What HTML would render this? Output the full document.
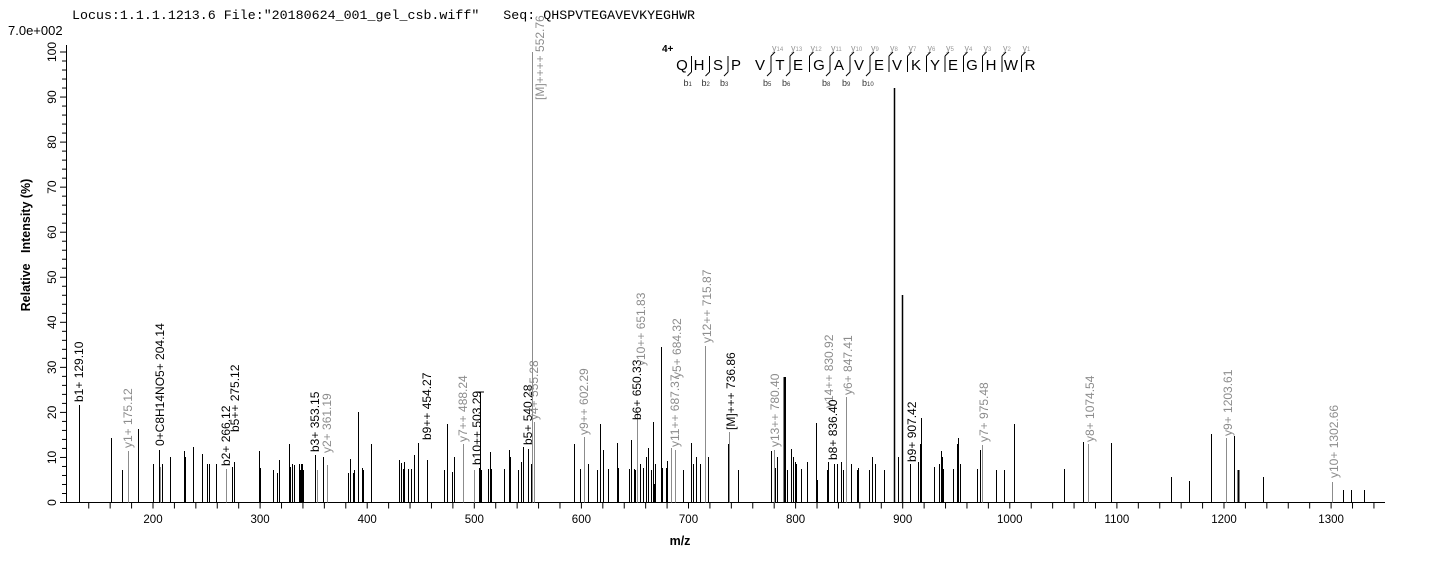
<!DOCTYPE html>
<html><head><meta charset="utf-8"><style>
html,body{margin:0;padding:0;background:#fff;}
svg{display:block;}
text{font-family:"Liberation Sans",Arial,sans-serif;}
</style></head><body>
<svg id="s" width="1436" height="562" xmlns="http://www.w3.org/2000/svg">
<text x="72" y="19" font-size="13.3" fill="#000" style="font-family:'Liberation Mono',monospace" textLength="623">Locus:1.1.1.1213.6 File:"20180624_001_gel_csb.wiff"&#160;&#160;&#160;Seq: QHSPVTEGAVEVKYEGHWR</text>
<text x="8" y="35" font-size="13" fill="#000">7.0e+002</text>
<text transform="translate(30,245) rotate(-90)" font-size="12.5" font-weight="bold" text-anchor="middle">Relative&#160;&#160;&#160;Intensity (%)</text>
<text x="680" y="545" font-size="12.5" font-weight="bold" text-anchor="middle">m/z</text>
<g id="g"></g>
</svg>
<script>
var g=document.getElementById('g'),h='';
var B=502.5;
function ln(x1,y1,x2,y2,c,w){h+='<line x1="'+x1+'" y1="'+y1+'" x2="'+x2+'" y2="'+y2+'" stroke="'+c+'" stroke-width="'+(w||1)+'"/>';}
ln(66,B,1385,B,'#000');ln(66.5,45,66.5,B,'#000');
for(var v=0;v<=100;v+=2){var y=B-4.505*v;ln(v%10==0?60:62,y,66,y,'#000');}
for(var v=0;v<=100;v+=10){var y=B-4.505*v;h+='<text transform="translate(56,'+y+') rotate(-90)" font-size="12" text-anchor="middle">'+v+'</text>';}
function X(m){return 153+(m-200)*1.071;}
for(var m=140;m<=1360;m+=20){var x=X(m);if(x<66||x>1385)continue;ln(x,B,x,B+6,'#000');}
for(var m=200;m<=1300;m+=100){h+='<text x="'+X(m)+'" y="523" font-size="11.5" text-anchor="middle">'+m+'</text>';}
var K='#000',G='#8c8c8c';
var P=[[79,405],[111,438],[122,470],[128,451,G],[138,429],[153,464],[159,450],[160,467,G],[162,464],[170,457],[184,451],[185,457],[193,447],[202,454],[207,464],[209,464],[216,464],[226,469,G],[232,467],[234,462],[259,451],[260,468],[273,470],[277,473],[279,460],[289,444],[290,467],[292,464],[294,465],[299,464],[300,470],[301,464],[302,464],[303,470],[315,455],[317,470,G],[323,457],[327,465,G],[348,473],[350,459],[353,473],[354,470],[358,412],[362,468],[363,470],[371,444],[399,460],[401,463],[403,469],[404,462],[408,469],[411,469],[414,455],[418,443],[427,460],[444,470],[447,424],[452,472],[454,457],[463,444,G],[474,470,G],[479,468],[480,392],[481,470],[488,469],[490,452],[491,469],[504,469],[509,450],[510,457],[518,470],[521,462],[523,447],[528,449],[531,464],[532,52,G],[534,422,G],
[574,444],[580,469],[584,437,G],[588,464],[597,470],[600,424],[603,450],[608,469],[617,443],[618,468],[629,469],[631,440],[634,469],[635,470],[637,412,G],[640,464],[643,468],[646,457],[648,448],[651,470],[653,422],[654,484],[655,464],[661,347],[662,468],[666,468],[667,461],[671,448,G],[675,450,G],[683,470],[691,443],[693,464],[696,457],[700,464],[705,346,G],[708,457],[728,444],[729,432,G],[738,470],[771,451],[774,450,G],[775,468],[777,457],[784,377,K,2],[785,377],[787,470],[791,449],[793,457],[795,462],[796,464],[801,469],[807,462],[816,423],[817,480],[827,470],[828,462],[834,464],[837,464],[841,462],[843,470],[846,397,G],[851,464],[857,470],[858,468],[869,470],[872,457],[875,464],[884,470],[894,88,K,1.5],[898,457],[902,295,K,1.5],[910,464],[918,462],[920,444],[921,418],[934,467],[939,464],[941,451],[942,457],[943,469],[953,469],[957,444],[958,438],[960,464],
[977,469],[980,450],[982,445,G],[996,470],[1004,470],[1014,424],[1064,469],[1083,442],[1088,444,G],[1111,443],[1171,477],[1189,481],[1211,434],[1226,438,G],[1234,436],[1238,470,K,2],[1263,477],[1332,482,G],[1343,490],[1351,490],[1364,490]];
P.forEach(function(p){ln(p[0]+.5,B,p[0]+.5,p[1],p[2]||K,p[3]||1);});
ln(476,392,484,392,'#000');
var L=[[79,402,'b1+ 129.10',K],[128,448,'y1+ 175.12',G],[160,446,'0+C8H14NO5+ 204.14',K],[226,466,'b2+ 266.12',K],[235,432,'b5++ 275.12',K],[315,452,'b3+ 353.15',K],[327,453,'y2+ 361.19',G],[427,440,'b9++ 454.27',K],[463,442,'y7++ 488.24',G],[477,465,'b10++ 503.29',K],[528,445,'b5+ 540.28',K],[534,420,'y4+ 555.28',G],[540,100,'[M]++++ 552.76',G],[584,435,'y9++ 602.29',G],[637,420,'b6+ 650.33',K],[641,366,'y10++ 651.83',G],[675,447,'y11++ 687.37',G],[677,378,'y5+ 684.32',G],[707,343,'y12++ 715.87',G],[731,430,'[M]+++ 736.86',K],[775,447,'y13++ 780.40',G],[829,408,'y14++ 830.92',G],[833,460,'b8+ 836.40',K],[848,395,'y6+ 847.41',G],[912,462,'b9+ 907.42',K],[984,442,'y7+ 975.48',G],[1090,442,'y8+ 1074.54',G],[1228,436,'y9+ 1203.61',G],[1334,478,'y10+ 1302.66',G]];
L.forEach(function(l){h+='<text transform="translate('+(l[0]+4)+','+l[1]+') rotate(-90)" font-size="12" fill="'+l[3]+'">'+l[2]+'</text>';});
var S='QHSPVTEGAVEVKYEGHWR'.split(''),SX=[682,699,718,736,760,780,798,819,839,859,879,897,916,935,953,972,991,1011,1030];
h+='<text x="662" y="52" font-size="10" font-weight="bold">4+</text>';
S.forEach(function(c,i){h+='<text x="'+SX[i]+'" y="70" font-size="15" text-anchor="middle">'+c+'</text>';});
var yI=[5,6,7,8,9,10,11,12,13,14,15,16,17,18],yN=[14,13,12,11,10,9,8,7,6,5,4,3,2,1];
yI.forEach(function(i,k){var x=(SX[i-1]+SX[i])/2+1;ln(x,56,x,72,'#000');ln(x,56,x+4,52,'#000');h+='<text x="'+(x+1)+'" y="51" font-size="9" fill="#999">y'+'<tspan font-size="6">'+yN[k]+'</tspan></text>';});
var bI=[1,2,3,5,6,8,9,10],bN=[1,2,3,5,6,8,9,10];
bI.forEach(function(i,k){var x=(SX[i-1]+SX[i])/2+1;ln(x,56,x,72,'#000');ln(x,72,x-4,76,'#000');h+='<text x="'+(x-8)+'" y="86" font-size="9" fill="#333">b<tspan font-size="6">'+bN[k]+'</tspan></text>';});
g.innerHTML=h;
</script>
</body></html>
